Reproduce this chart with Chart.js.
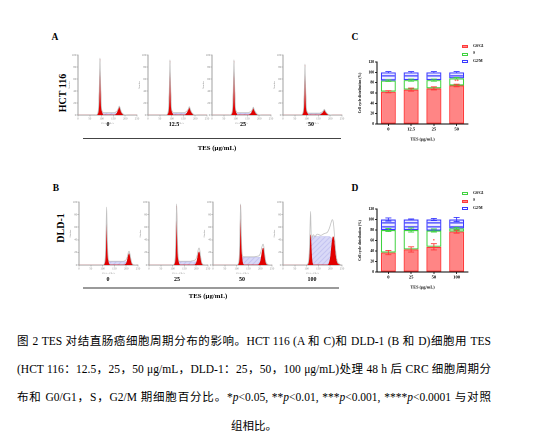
<!DOCTYPE html>
<html><head><meta charset="utf-8">
<script src="https://cdn.jsdelivr.net/npm/chart.js@4.4.0/dist/chart.umd.min.js"></script>
<style>
html,body{margin:0;padding:0;background:#fff;width:553px;height:441px;overflow:hidden;}
body{position:relative;font-family:"Liberation Serif","Noto Sans CJK SC",serif;color:#000;}
canvas{position:absolute;}
.lbl{position:absolute;font-weight:bold;white-space:nowrap;transform:translate(-50%,-50%);line-height:1;}
.line{position:absolute;background:#555;}
.cap{position:absolute;left:17px;width:474px;font-size:11.5px;line-height:14px;white-space:nowrap;}
.just{text-align:justify;text-align-last:justify;white-space:normal;}
.leg{position:absolute;font-size:3.8px;line-height:1;white-space:nowrap;}
.legbox{position:absolute;width:6px;height:3px;box-sizing:border-box;}
</style></head><body>
<script>
// ---------------- DATA ----------------
const HIST_X_TICKS = [0, 50, 100, 150, 200, 250];
const HIST_Y_TICKS = [0, 20, 40, 60, 80, 100];

// Panel A (HCT 116) histogram channels
const A_X = [0,70,78,84,87.5,90,92,93,94,96.5,99,103,109,120,140,155,160,166,171,175,179,184,190,195,210,250];
const A_LABELS = ['0', '12.5', '25', '50'];
const A0_G1  = [0,0,0,2,12,38,75,93,80,40,12,3,0,0,0,0,0,0,0,0,0,0,0,0,0,0];
const A0_S   = [0,0,0,0,0,1,2,3,3,3.5,3.5,3.5,3.5,3.5,3.5,3.5,3.5,3,2.5,2,1,0.5,0,0,0,0];
const A0_G2  = [0,0,0,0,0,0,0,0,0,0,0,0,0,0,0,0,1,4,9,13,9,4,1,0,0,0];
const A0_TOT = [0,0,0.5,3,13,40,78,95,82,42,14,6,4,4,4,4,5,7,11,15,11,5,2,0.5,0,0];
const A1_G1  = [0,0,0,2,11,36,72,90,77,38,11,3,0,0,0,0,0,0,0,0,0,0,0,0,0,0];
const A1_S   = [0,0,0,0,0,1,2,3,3,3,3,3,3,3,3,3,3,3,2.5,2,1,0.5,0,0,0,0];
const A1_G2  = [0,0,0,0,0,0,0,0,0,0,0,0,0,0,0,0,1,4,8,12,8,4,1,0,0,0];
const A1_TOT = [0,0,0.5,3,12,38,75,92,79,40,13,6,4,4,4,4,5,7,10,14,10,5,2,0.5,0,0];
const A2_G1  = [0,0,0,2,11,37,73,90,78,39,11,3,0,0,0,0,0,0,0,0,0,0,0,0,0,0];
const A2_S   = [0,0,0,0,0,1,2,3,3,3,3,3,3,3,3,3,3,3,2.5,2,1,0.5,0,0,0,0];
const A2_G2  = [0,0,0,0,0,0,0,0,0,0,0,0,0,0,0,0,1,3,7,11,7,3,1,0,0,0];
const A2_TOT = [0,0,0.5,3,12,39,76,92,80,41,13,6,4,4,4,4,5,6,9,13,9,5,2,0.5,0,0];
const A3_G1  = [0,0,0,2,10,33,66,83,71,35,10,3,0,0,0,0,0,0,0,0,0,0,0,0,0,0];
const A3_S   = [0,0,0,0,0,1,2,2.5,2.5,2.5,2.5,2.5,2.5,2.5,2.5,2.5,2.5,2.5,2,1.5,1,0.5,0,0,0,0];
const A3_G2  = [0,0,0,0,0,0,0,0,0,0,0,0,0,0,0,0,1,3,5,8,5,3,1,0,0,0];
const A3_TOT = [0,0,0.5,3,11,35,69,85,73,37,12,5,3,3,3,3,4,5,7,9.5,7,4,1.5,0.5,0,0];

// Panel B (DLD-1) histogram channels
const B_X = [0,95,103,108,112,114.5,117,118,119.5,122,125,129,135,145,160,175,188,196,202,206,209,212,215,219,224,232,250];
const B_LABELS = ['0', '25', '50', '100'];
const B0_G1  = [0,0,0,2,12,40,73,62,42,15,4,1,0,0,0,0,0,0,0,0,0,0,0,0,0,0,0];
const B0_S   = [0,0,0,0,1,3,5,5,5,5,5,5,5,5,5,5,5,5,5,4.5,4,3,2,1,0,0,0];
const B0_G2  = [0,0,0,0,0,0,0,0,0,0,0,0,0,0,0,0,0,1,4,10,15,18,15,8,2,0,0];
const B0_TOT = [0,0,0.5,3,16,50,92,78,50,20,8,6,6,6,6,6,6,7,10,15,20,22,19,11,3,0.5,0];
const B1_G1  = [0,0,0,2,15,50,94,80,52,18,5,1,0,0,0,0,0,0,0,0,0,0,0,0,0,0,0];
const B1_S   = [0,0,0,0,1,3,5,5,5,5,5,5,5,5,5,5,5,5,5,4.5,4,3,2,1,0,0,0];
const B1_G2  = [0,0,0,0,0,0,0,0,0,0,0,0,0,0,0,0,0,1,5,12,18,21,18,9,2,0,0];
const B1_TOT = [0,0,0.5,3,17,55,97,84,56,22,9,6,6,6,6,6,7,8,12,19,25,27,24,13,3,0.5,0];
const B2_G1  = [0,0,0,2,15,50,95,80,52,18,5,1,0,0,0,0,0,0,0,0,0,0,0,0,0,0,0];
const B2_S   = [0,0,0,0,2,6,10,12,12,12,12,12,12,12,12,12,12,12,12,11,10,8,5,2,0,0,0];
const B2_G2  = [0,0,0,0,0,0,0,0,0,0,0,0,0,0,0,0,0,2,7,16,23,27,24,13,3,0,0];
const B2_TOT = [0,0,0.5,3,18,58,97,86,60,26,15,13,13,13,13,13,14,15,20,27,31,33,30,17,5,1,0];
const B3_G1  = [0,0,0,3,14,32,48,42,30,12,3,0,0,0,0,0,0,0,0,0,0,0,0,0,0,0,0];
const B3_S   = [0,0,0,0,2,10,25,35,42,45,45,45,45,45,45,45,45,45,44,42,38,32,24,14,5,0,0];
const B3_G2  = [0,0,0,0,0,0,0,0,0,0,0,0,0,0,0,0,0,4,15,30,40,45,43,30,12,2,0];
const B3_TOT = [0,0,1,5,25,60,85,70,48,42,46,48,45,49,47,50,52,58,65,70,72,70,62,42,20,4,0];

// Panel C (HCT 116 bars)
const C_CATS = ['0', '12.5', '25', '50'];
const C_G0G1 = [62.5, 66.5, 69, 74.5];
const C_G0G1_ERR = [2, 3, 3, 2.5];
const C_G0G1_STARS = ['', '', '', '**'];
const C_S = [21.5, 18.5, 16, 14];
const C_S_ERR = [1.5, 2, 2, 1.5];
const C_G2M = [16, 15, 15, 11.5];
const C_G2M_ERR = [1.5, 1.5, 1.5, 1.5];

// Panel D (DLD-1 bars)
const D_CATS = ['0', '25', '50', '100'];
const D_RED = [37, 43, 48, 77];
const D_RED_ERR = [4, 5, 6, 3];
const D_RED_STARS = ['', '', '*', ''];
const D_GREEN = [43, 37, 31, 6];
const D_GREEN_ERR = [3, 4, 3, 2];
const D_BLUE = [20, 20, 21, 17];
const D_BLUE_ERR = [3, 1, 2, 4];

const BAR_Y_TICKS = [0, 20, 40, 60, 80, 100, 120];

// ---------------- HELPERS ----------------
const SERIF = '"Liberation Serif", serif';
function el(tag, cls, css, html){
  const e = document.createElement(tag);
  if (cls) e.className = cls;
  if (css) Object.assign(e.style, css);
  if (html !== undefined) e.innerHTML = html;
  document.body.appendChild(e);
  return e;
}
function label(text, x, y, size, extra){
  return el('div','lbl',Object.assign({left:x+'px',top:y+'px',fontSize:size+'px'},extra||{}),text);
}
function makePattern(w,h,draw){
  const c = document.createElement('canvas'); c.width=w; c.height=h;
  const g = c.getContext('2d'); draw(g,w,h);
  return g.createPattern(c,'repeat');
}
const hatch = makePattern(5,5,(g,w,h)=>{
  g.fillStyle='#dadaf8'; g.fillRect(0,0,w,h);
  g.strokeStyle='#a2a2e8'; g.lineWidth=0.6;
  g.beginPath(); g.moveTo(0,h); g.lineTo(w,0); g.moveTo(-1,1); g.lineTo(1,-1); g.moveTo(w-1,h+1); g.lineTo(w+1,h-1); g.stroke();
});
const stripes = makePattern(4,4,(g,w,h)=>{
  g.fillStyle='#ffffff'; g.fillRect(0,0,w,h);
  g.fillStyle='#4a4aff'; g.fillRect(0,1,w,1.6);
});

const pts = (xs, ys) => xs.map((x,i)=>({x:x, y:ys[i]}));

function histChart(left, top, w, h, xs, g1, s, g2, tot){
  const padL = 10, padT = 3, padR = 3, padB = 10;
  const cv = el('canvas', null, {left:(left-padL)+'px', top:(top-padT)+'px'});
  cv.width = w+padL+padR; cv.height = h+padT+padB;
  cv.style.width = cv.width+'px'; cv.style.height = cv.height+'px';
  const line = (data, bg, border, bw, fill) => ({data, backgroundColor:bg, borderColor:border, borderWidth:bw,
    fill, pointRadius:0, cubicInterpolationMode:'monotone'});
  new Chart(cv, {
    type:'line',
    data:{datasets:[
      line(pts(xs,tot), 'rgba(0,0,0,0)', '#c2c2c2', 0.8, false),
      line(pts(xs,g1), '#e30000', '#c80000', 0.5, 'origin'),
      line(pts(xs,g2), '#e30000', '#c80000', 0.5, 'origin'),
      line(pts(xs,s), hatch, '#a8a8ea', 0.4, 'origin')
    ]},
    options:{
      responsive:false, animation:false, events:[], devicePixelRatio:2,
      layout:{padding:{top:padT,right:padR,left:0,bottom:0}},
      plugins:{legend:{display:false},tooltip:{enabled:false}},
      scales:{
        x:{type:'linear', min:0, max:250,
          afterBuildTicks(sc){ sc.ticks = HIST_X_TICKS.map(v=>({value:v})); },
          afterFit(sc){ sc.height = padB; },
          border:{color:'#7a7a7a', width:0.7},
          grid:{drawOnChartArea:false, tickLength:1.5, color:'#8a8a8a', lineWidth:0.5},
          ticks:{font:{size:3, family:SERIF}, color:'#888', padding:0.3, maxRotation:0, autoSkip:false},
          title:{display:true, text:'PI-A :: PE-A', font:{size:2.4, family:SERIF}, color:'#888', padding:0}
        },
        y:{min:0, max:100,
          afterBuildTicks(sc){ sc.ticks = HIST_Y_TICKS.map(v=>({value:v})); },
          afterFit(sc){ sc.width = padL; },
          border:{color:'#7a7a7a', width:0.7},
          grid:{drawOnChartArea:false, tickLength:1.5, color:'#8a8a8a', lineWidth:0.5},
          ticks:{font:{size:3, family:SERIF}, color:'#888', padding:0.3, autoSkip:false},
          title:{display:true, text:'Number', font:{size:2.4, family:SERIF}, color:'#888', padding:0}
        }
      }
    }
  });
}

const errPlugin = {
  id:'errbars',
  afterDatasetsDraw(chart){
    const ctx = chart.ctx, ys = chart.scales.y;
    const n = chart.data.labels.length;
    const cum = new Array(n).fill(0);
    ctx.save();
    chart.data.datasets.forEach((d,di)=>{
      const meta = chart.getDatasetMeta(di);
      d.data.forEach((v,i)=>{
        cum[i] += v;
        const e = d.err[i], bar = meta.data[i];
        const y0 = ys.getPixelForValue(cum[i]-e), y1 = ys.getPixelForValue(cum[i]+e);
        ctx.strokeStyle = d.borderColor; ctx.lineWidth = 0.9;
        ctx.beginPath();
        ctx.moveTo(bar.x, y0); ctx.lineTo(bar.x, y1);
        ctx.moveTo(bar.x-3, y1); ctx.lineTo(bar.x+3, y1);
        ctx.moveTo(bar.x-3, y0); ctx.lineTo(bar.x+3, y0);
        ctx.stroke();
        if (d.stars && d.stars[i]){
          ctx.fillStyle = d.borderColor; ctx.textAlign='center'; ctx.textBaseline='bottom';
          ctx.font = 'bold 4.5px "Liberation Serif"';
          ctx.fillText(d.stars[i], bar.x, y1-0.5);
        }
      });
    });
    ctx.restore();
  }
};

function barChart(axisX, axisTop, axisBottom, axisRight, cats, sets){
  const left = 358, padT = 4, xH = 18;
  const cv = el('canvas', null, {left:left+'px', top:(axisTop-padT)+'px'});
  cv.width = axisRight + 3 - left; cv.height = padT + (axisBottom-axisTop) + xH;
  cv.style.width = cv.width+'px'; cv.style.height = cv.height+'px';
  new Chart(cv, {
    type:'bar',
    data:{labels:cats, datasets:sets.map(s=>({
      label:s.label, data:s.data, err:s.err, stars:s.stars,
      backgroundColor:s.bg, borderColor:s.border, borderWidth:1.2, borderSkipped:false,
      categoryPercentage:0.8, barPercentage:0.82
    }))},
    options:{
      responsive:false, animation:false, events:[], devicePixelRatio:2,
      layout:{padding:{top:padT,right:3,left:0,bottom:0}},
      plugins:{legend:{display:false},tooltip:{enabled:false}},
      scales:{
        x:{stacked:true,
          afterFit(sc){ sc.height = xH; },
          border:{color:'#000', width:1},
          grid:{drawOnChartArea:false, offset:false, tickLength:2, color:'#000', lineWidth:0.8},
          ticks:{font:{size:4.6, weight:'bold', family:SERIF}, color:'#000', padding:0.5, maxRotation:0},
          title:{display:true, text:'TES (μg/mL)', font:{size:4.3, weight:'bold', family:SERIF}, color:'#000', padding:{top:1,bottom:0}}
        },
        y:{stacked:true, min:0, max:120,
          afterBuildTicks(sc){ sc.ticks = BAR_Y_TICKS.map(v=>({value:v})); },
          afterFit(sc){ sc.width = axisX - left; },
          border:{color:'#000', width:1},
          grid:{drawOnChartArea:false, tickLength:2, color:'#000', lineWidth:0.8},
          ticks:{font:{size:3.8, weight:'bold', family:SERIF}, color:'#000', padding:0.8},
          title:{display:true, text:'Cell cycle distribution (%)', font:{size:3.6, weight:'bold', family:SERIF}, color:'#000', padding:{top:0,bottom:1}}
        }
      }
    },
    plugins:[errPlugin]
  });
}

function legend(x, y, items){
  items.forEach((it,i)=>{
    const yy = y + i*7.5;
    el('div','legbox',{left:x+'px', top:(yy-1.5)+'px', background:it.bg, border:'0.9px solid '+it.border});
    el('div','leg',{left:(x+11)+'px', top:(yy-2)+'px', fontWeight:'bold'}, it.text);
  });
}

// ---------------- LAYOUT ----------------
const RED_BG = '#ff8585', RED_BD = '#ff3b3b';
const GREEN_BD = '#3fd23f', BLUE_BD = '#3a3aff';

// Panel letters
label('A', 55, 38, 9.5);
label('B', 56, 189, 9.5);
label('C', 355, 38, 9.5);
label('D', 355, 189, 9.5);
label('HCT 116', 63, 93, 10, {transform:'translate(-50%,-50%) rotate(-90deg)'});
label('DLD-1', 61, 228, 10, {transform:'translate(-50%,-50%) rotate(-90deg)'});

// Row A histograms
const A_LEFT = [78, 148, 212, 283];
const A_SETS = [[A0_G1,A0_S,A0_G2,A0_TOT],[A1_G1,A1_S,A1_G2,A1_TOT],[A2_G1,A2_S,A2_G2,A2_TOT],[A3_G1,A3_S,A3_G2,A3_TOT]];
A_SETS.forEach((s,i)=>histChart(A_LEFT[i], 55, 59, 60, A_X, s[0], s[1], s[2], s[3]));
const A_LBL_X = [108, 174, 243, 311];
A_LABELS.forEach((t,i)=>label(t, A_LBL_X[i], 123.5, 6));
el('div','line',{left:'83px', top:'137.5px', width:'258px', height:'1.3px', background:'#444'});
label('TES (μg/mL)', 217, 147.5, 6.8);

// Row B histograms
const B_LEFT = [79, 149, 213, 283];
const B_SETS = [[B0_G1,B0_S,B0_G2,B0_TOT],[B1_G1,B1_S,B1_G2,B1_TOT],[B2_G1,B2_S,B2_G2,B2_TOT],[B3_G1,B3_S,B3_G2,B3_TOT]];
B_SETS.forEach((s,i)=>histChart(B_LEFT[i], 202, 59, 63, B_X, s[0], s[1], s[2], s[3]));
const B_LBL_X = [108, 177, 242, 312];
B_LABELS.forEach((t,i)=>label(t, B_LBL_X[i], 279, 6));
el('div','line',{left:'83px', top:'286.5px', width:'256px', height:'2px', background:'#9a9a9a'});
label('TES (μg/mL)', 208, 295.5, 6.8);

// Panel C
barChart(377, 62, 124, 468, C_CATS, [
  {label:'G0/G1', data:C_G0G1, err:C_G0G1_ERR, stars:C_G0G1_STARS, bg:RED_BG, border:RED_BD},
  {label:'S', data:C_S, err:C_S_ERR, bg:'#ffffff', border:GREEN_BD},
  {label:'G2/M', data:C_G2M, err:C_G2M_ERR, bg:stripes, border:BLUE_BD}
]);
legend(462, 46.5, [
  {text:'G0/G1', bg:RED_BG, border:RED_BD},
  {text:'S', bg:'#fff', border:GREEN_BD},
  {text:'G2/M', bg:'repeating-linear-gradient(#fff 0 0.7px,#4a4aff 0.7px 1.5px)', border:BLUE_BD}
]);

// Panel D
barChart(377, 209, 272, 468, D_CATS, [
  {label:'S', data:D_RED, err:D_RED_ERR, stars:D_RED_STARS, bg:RED_BG, border:RED_BD},
  {label:'G0/G1', data:D_GREEN, err:D_GREEN_ERR, bg:'#ffffff', border:GREEN_BD},
  {label:'G2/M', data:D_BLUE, err:D_BLUE_ERR, bg:stripes, border:BLUE_BD}
]);
legend(462, 193.5, [
  {text:'G0/G1', bg:'#fff', border:GREEN_BD},
  {text:'S', bg:RED_BG, border:RED_BD},
  {text:'G2/M', bg:'repeating-linear-gradient(#fff 0 0.7px,#4a4aff 0.7px 1.5px)', border:BLUE_BD}
]);

// Caption
el('div','cap just',{top:'334px'},'图 2 TES 对结直肠癌细胞周期分布的影响。HCT 116 (A 和 C)和 DLD-1 (B 和 D)细胞用 TES');
el('div','cap just',{top:'362px'},'(HCT 116：12.5，25，50 μg/mL，DLD-1：25，50，100 μg/mL)处理 48 h 后 CRC 细胞周期分');
el('div','cap just',{top:'390px'},'布和 G0/G1，S，G2/M 期细胞百分比。*<i>p</i>&lt;0.05, **<i>p</i>&lt;0.01, ***<i>p</i>&lt;0.001, ****<i>p</i>&lt;0.0001 与对照');
el('div','cap',{top:'419px', textAlign:'center'},'组相比。');
</script>
</body></html>
